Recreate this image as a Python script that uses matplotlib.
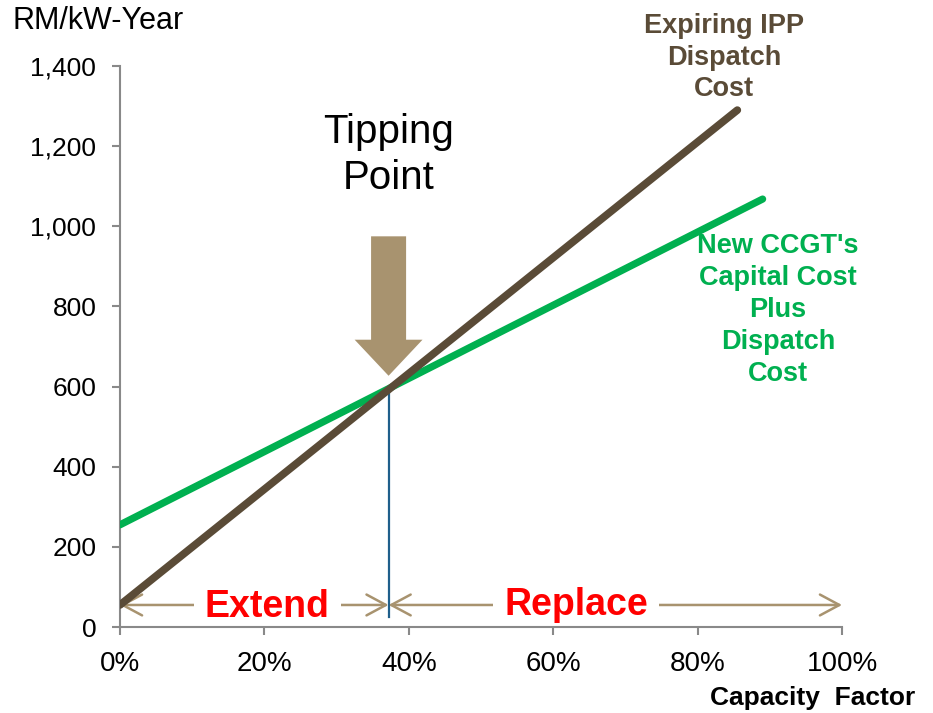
import matplotlib
matplotlib.use("Agg")
import matplotlib.pyplot as plt
from matplotlib.ticker import FuncFormatter

plt.rcParams['font.family'] = ['Liberation Sans', 'DejaVu Sans']

# cost lines (capacity factor %, RM/kW-Year)
ipp_cf = [0, 85.5]
ipp_cost = [55, 1290]
ccgt_cf = [0, 89]
ccgt_cost = [255, 1068]

# crossover of the two lines
tip_cf = 37.2
tip_cost = 595

x_ticks = [0, 20, 40, 60, 80, 100]
y_ticks = [0, 200, 400, 600, 800, 1000, 1200, 1400]

brown = '#5A4B37'
green = '#00B050'
tan = '#A8936F'
spine_grey = '#898989'

fig = plt.figure(figsize=(9.33, 7.13), dpi=100)
ax = fig.add_axes([0.1286, 0.1206, 0.7739, 0.7868])
ax.set_axisbelow(False)

ax.plot(ccgt_cf, ccgt_cost, color=green, lw=5.2, solid_capstyle='round', zorder=3)
ax.plot(ipp_cf, ipp_cost, color=brown, lw=5.5, solid_capstyle='round', zorder=3.1)

# drop line from the tipping point
ax.plot([tip_cf, tip_cf], [tip_cost, 25], color='#1F5F8B', lw=1.6, zorder=1.5)

# big pointer arrow
ax.arrow(tip_cf, 975, 0, 627 - 975, width=4.85, head_width=9.4, head_length=90,
         length_includes_head=True, color=tan, lw=0, zorder=2.8)

ax.text(tip_cf, 1282, 'Tipping\nPoint', ha='center', va='top', fontsize=29,
        linespacing=1.25, color='black')

# extend / replace ranges
arrow_style = '<->,head_length=14,head_width=7.5'
for x0, x1 in [(0, tip_cf), (tip_cf, 100)]:
    ax.annotate('', xy=(x0, 55), xytext=(x1, 55),
                arrowprops=dict(arrowstyle=arrow_style, mutation_scale=1,
                                color=tan, lw=1.8, shrinkA=0, shrinkB=0),
                zorder=2, annotation_clip=False)

box = dict(boxstyle='square,pad=0.3', fc='white', ec='none')
ax.text(20.4, 50, 'Extend', ha='center', va='center', fontsize=27,
        fontweight='bold', color='red', bbox=box, zorder=2.3)
ax.text(63.2, 56, 'Replace', ha='center', va='center', fontsize=27,
        fontweight='bold', color='red', bbox=box, zorder=2.3)

ax.text(83.7, 1532, 'Expiring IPP\nDispatch\nCost', ha='center', va='top',
        fontsize=19.5, fontweight='bold', color=brown, linespacing=1.28)
ax.text(91.1, 983, "New CCGT's\nCapital Cost\nPlus\nDispatch\nCost", ha='center',
        va='top', fontsize=19.5, fontweight='bold', color=green, linespacing=1.3)

ax.set_xlim(0, 100)
ax.set_ylim(0, 1400)
ax.set_xticks(x_ticks)
ax.set_yticks(y_ticks)
ax.xaxis.set_major_formatter(FuncFormatter(lambda v, p: f'{v:.0f}%'))
ax.yaxis.set_major_formatter(FuncFormatter(lambda v, p: f'{v:,.0f}'))

for side in ['top', 'right']:
    ax.spines[side].set_visible(False)
for side in ['left', 'bottom']:
    ax.spines[side].set_color(spine_grey)
    ax.spines[side].set_linewidth(1.5)
ax.tick_params(axis='both', direction='out', color=spine_grey, width=1.5,
               length=6, labelsize=19)
ax.tick_params(axis='x', pad=11, labelsize=20)
ax.tick_params(axis='y', pad=11)

fig.text(0.013, 0.991, 'RM/kW-Year', ha='left', va='top', fontsize=22)
fig.text(0.981, 0.021, 'Capacity  Factor', ha='right', va='center', fontsize=19,
         fontweight='bold')

fig.savefig('out.png', dpi=100)
